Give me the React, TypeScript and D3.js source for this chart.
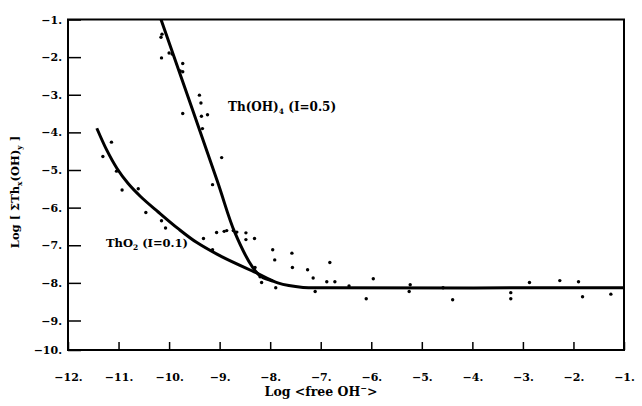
import React, { useEffect, useRef } from 'react';
import * as d3 from 'd3';

type Pt = [number, number];

// measured points, [log free OH-, log total Th]
const measured: Pt[] = [
  [-10.16, -1.47], [-10.14, -1.39], [-10.0, -1.89], [-9.94, -1.92], [-10.15, -2.02],
  [-9.73, -2.17], [-9.78, -2.37], [-9.73, -2.39], [-9.4, -3.01], [-9.37, -3.22],
  [-9.73, -3.5], [-9.36, -3.57], [-9.24, -3.53], [-9.34, -3.9], [-8.96, -4.67],
  [-9.14, -5.39], [-11.14, -4.26], [-11.31, -4.64], [-11.04, -5.03], [-10.93, -5.53],
  [-10.61, -5.5], [-10.46, -6.13], [-10.15, -6.35], [-10.07, -6.54], [-9.32, -6.82],
  [-9.14, -7.12], [-9.06, -6.66], [-8.91, -6.63], [-8.86, -6.61], [-8.73, -6.61],
  [-8.66, -6.65], [-8.48, -6.67], [-8.48, -6.85], [-8.31, -6.82], [-7.95, -7.12],
  [-7.91, -7.39], [-8.3, -7.59], [-8.2, -7.84], [-8.17, -7.99], [-7.89, -8.13],
  [-7.57, -7.21], [-7.56, -7.59], [-7.26, -7.65], [-6.82, -7.46], [-7.15, -7.87],
  [-6.88, -7.97], [-6.72, -7.97], [-5.96, -7.89], [-6.1, -8.42], [-7.11, -8.23],
  [-5.23, -8.05], [-5.25, -8.23], [-4.58, -8.13], [-4.39, -8.45], [-3.24, -8.26],
  [-3.24, -8.42], [-2.87, -7.99], [-2.27, -7.94], [-1.9, -7.97], [-1.82, -8.37],
  [-1.26, -8.3], [-6.44, -8.08],
];

// ThO2 (I=0.1) fitted curve
const thO2Curve: Pt[] = [
  [-11.43, -3.89], [-11.23, -4.48], [-11.03, -4.96], [-10.81, -5.36], [-10.56, -5.71],
  [-10.22, -6.11], [-9.82, -6.56], [-9.45, -6.93], [-8.95, -7.31], [-8.28, -7.73],
  [-7.85, -8.0], [-7.35, -8.12], [-6.8, -8.13], [-1, -8.13],
];

// Th(OH)4 (I=0.5) fitted curve
const thOH4Curve: Pt[] = [
  [-10.16, -1.0], [-9.05, -5.28], [-8.7, -6.66], [-8.34, -7.6], [-8.17, -7.84], [-7.95, -7.95],
];

const xTicks = [-12, -11, -10, -9, -8, -7, -6, -5, -4, -3, -2, -1];
const yTicks = [-1, -2, -3, -4, -5, -6, -7, -8, -9, -10];

const font = '"DejaVu Serif", serif';

const App: React.FC = () => {
  const xAxisRef = useRef<SVGGElement | null>(null);
  const yAxisRef = useRef<SVGGElement | null>(null);

  const x = d3.scaleLinear().domain([-12, -1]).range([68, 624]);
  // the scanned original has a shorter last interval on the y axis
  const y = d3.scaleLinear().domain([-10, -9, -1]).range([350, 320.5, 19.5]);

  const line = d3.line<Pt>()
    .x((d) => x(d[0]))
    .y((d) => y(d[1]))
    .curve(d3.curveCatmullRom.alpha(0.5));

  const fmt = (d: d3.NumberValue) => d3.format('d')(d as number) + '.';

  useEffect(() => {
    const xAxis = d3.axisBottom(x).tickValues(xTicks).tickSize(-8).tickPadding(23).tickFormat(fmt);
    const gx = d3.select(xAxisRef.current);
    gx.selectAll('*').remove();
    gx.call(xAxis);
    gx.select('.domain').remove();
    gx.selectAll('line').attr('stroke-width', 1.5);
    gx.selectAll('text')
      .attr('font-family', font)
      .attr('font-weight', 'bold')
      .attr('font-size', 11)
      .attr('fill', '#000');

    const yAxis = d3.axisLeft(y).tickValues(yTicks).tickSize(-13).tickPadding(6).tickFormat(fmt);
    const gy = d3.select(yAxisRef.current);
    gy.selectAll('*').remove();
    gy.call(yAxis);
    gy.select('.domain').remove();
    gy.selectAll('line').attr('stroke-width', 1.5);
    gy.selectAll('text')
      .attr('font-family', font)
      .attr('font-weight', 'bold')
      .attr('font-size', 11)
      .attr('fill', '#000');
  }, []);

  return (
    <svg width={642} height={406} style={{ position: 'absolute', left: 0, top: 0, background: '#fff' }}>
      <rect x={68} y={19.5} width={556} height={330.5} fill="none" stroke="#000" strokeWidth={2} />
      <g ref={xAxisRef} transform="translate(0,350)" />
      <g ref={yAxisRef} transform="translate(68,0)" />

      <path d={line(thO2Curve) || ''} fill="none" stroke="#000" strokeWidth={3} />
      <path d={line(thOH4Curve) || ''} fill="none" stroke="#000" strokeWidth={3} />

      {measured.map((d, i) => (
        <circle key={i} cx={x(d[0])} cy={y(d[1])} r={1.7} fill="#000" />
      ))}

      <text x={228} y={111} fontFamily={font} fontWeight="bold" fontSize={12}>
        Th(OH)<tspan fontSize={7.5} dy={3}>4</tspan><tspan dy={-3}> (I=0.5)</tspan>
      </text>
      <text x={106} y={247} fontFamily={font} fontWeight="bold" fontSize={11.5}>
        ThO<tspan fontSize={7.5} dy={3}>2</tspan><tspan dy={-3}> (I=0.1)</tspan>
      </text>

      <text x={321} y={396} textAnchor="middle" fontFamily={font} fontWeight="bold" fontSize={12.5}>
        Log &lt;free OH<tspan fontSize={8} dy={-5}>−</tspan><tspan dy={5}>&gt;</tspan>
      </text>

      <text transform="translate(19,192) rotate(-90)" textAnchor="middle" fontFamily={font} fontWeight="bold" fontSize={11.5}>
        Log [ ΣTh<tspan fontSize={7.5} dy={3}>x</tspan><tspan dy={-3}>(OH)</tspan><tspan fontSize={7.5} dy={3}>y</tspan><tspan dy={-3}> ]</tspan>
      </text>
    </svg>
  );
};

export default App;
